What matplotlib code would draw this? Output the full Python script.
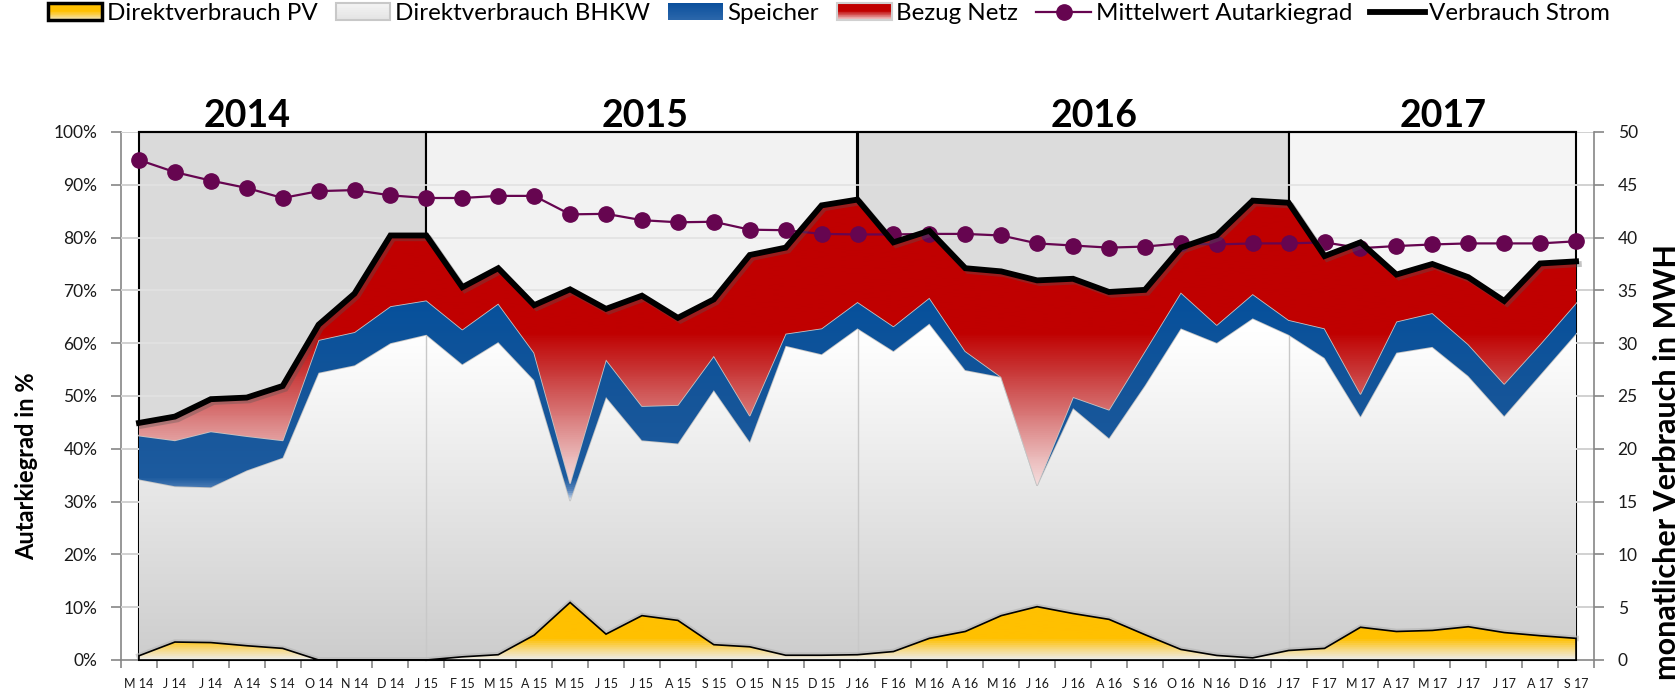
import numpy as np
import matplotlib
matplotlib.use('Agg')
import matplotlib.pyplot as plt
import matplotlib.patheffects as pe
from matplotlib.colors import LinearSegmentedColormap, Normalize
from matplotlib.patches import Polygon, Rectangle, Patch
from matplotlib.lines import Line2D
from matplotlib.legend_handler import HandlerBase
from matplotlib.ticker import PercentFormatter, MultipleLocator

plt.rcParams['font.family'] = ['Lato', 'DejaVu Sans']

# monthly data (MWh), May 2014 .. Sep 2017
months = ['M 14', 'J 14', 'J 14', 'A 14', 'S 14', 'O 14', 'N 14', 'D 14',
          'J 15', 'F 15', 'M 15', 'A 15', 'M 15', 'J 15', 'J 15', 'A 15', 'S 15', 'O 15', 'N 15', 'D 15',
          'J 16', 'F 16', 'M 16', 'A 16', 'M 16', 'J 16', 'J 16', 'A 16', 'S 16', 'O 16', 'N 16', 'D 16',
          'J 17', 'F 17', 'M 17', 'A 17', 'M 17', 'J 17', 'J 17', 'A 17', 'S 17']

pv = [0.4, 1.7, 1.65, 1.35, 1.1, 0.0, 0.0, 0.0, 0.0, 0.3, 0.5, 2.35, 5.45, 2.45, 4.2, 3.75, 1.45, 1.25, 0.45, 0.45,
      0.5, 0.8, 2.05, 2.7, 4.2, 5.05, 4.4, 3.85, 2.4, 1.0, 0.43, 0.2, 0.9, 1.1, 3.1, 2.7, 2.8, 3.15, 2.6, 2.3, 2.05]
bhkw = [16.7, 14.75, 14.7, 16.6, 18.05, 27.2, 27.9, 30.0, 30.8, 27.7, 29.6, 24.15, 9.65, 22.45, 16.6, 16.75, 24.1,
        19.4, 29.3, 28.5, 30.9, 28.45, 29.8, 24.75, 22.6, 11.5, 19.45, 17.15, 23.6, 30.4, 29.6, 32.15, 29.9, 27.5,
        19.95, 26.4, 26.85, 23.75, 20.5, 24.7, 28.85]
speicher = [4.15, 4.35, 5.3, 3.25, 1.65, 3.1, 3.15, 3.5, 3.25, 3.3, 3.65, 2.6, 1.65, 3.55, 3.25, 3.65, 3.25, 2.5,
            1.15, 2.45, 2.5, 2.35, 2.45, 1.8, 0.0, 0.0, 1.05, 2.7, 3.25, 3.4, 1.7, 2.3, 1.4, 2.8, 2.15, 2.95, 3.2,
            3.0, 3.05, 2.9, 2.9]
netz = [1.2, 2.25, 3.05, 3.65, 5.15, 1.45, 3.65, 6.7, 6.15, 4.0, 3.35, 4.5, 18.35, 4.8, 10.45, 8.25, 5.35, 15.2,
        8.15, 11.65, 9.7, 7.95, 6.35, 7.85, 10.0, 19.4, 11.2, 11.15, 5.8, 4.25, 8.5, 8.85, 11.1, 6.85, 14.35, 4.45,
        4.65, 6.35, 7.85, 7.65, 3.95]
# Mittelwert Autarkiegrad in %
autarkie = [94.7, 92.4, 90.8, 89.4, 87.5, 88.8, 89.0, 88.0, 87.5, 87.5, 87.9, 87.9, 84.4, 84.5, 83.3, 82.9, 83.0,
            81.5, 81.4, 80.7, 80.6, 80.6, 80.7, 80.7, 80.4, 78.9, 78.5, 78.1, 78.3, 78.9, 78.7, 78.9, 78.9, 79.1,
            78.0, 78.4, 78.7, 78.9, 78.9, 78.9, 79.3]

years = ['2014', '2015', '2016', '2017']
year_start = [0, 8, 20, 32]
year_end = [8, 20, 32, 40]
year_colors = ['#dadada', '#f2f2f2', '#dcdcdc', '#f5f5f5']
year_label_x = [3.0, 14.1, 26.6, 36.3]

W, H = 1681, 692
YMAX = 50

x = np.arange(len(months))
c1 = np.array(pv)
c2 = c1 + np.array(bhkw)
c3 = c2 + np.array(speicher)
c4 = c3 + np.array(netz)


def grad_fill(ax, x, lo, hi, stops, z, edge=None, lw=1.2):
    verts = np.column_stack([np.r_[x, x[::-1]], np.r_[hi, lo[::-1]]])
    poly = Polygon(verts, closed=True, facecolor='none',
                   edgecolor=edge if edge else 'none', lw=lw, zorder=z + 0.2)
    ax.add_patch(poly)
    cmap = LinearSegmentedColormap.from_list('g', [(v / YMAX, c) for v, c in stops])
    grad = np.linspace(0, YMAX, 500).reshape(-1, 1)
    im = ax.imshow(grad, extent=[x[0], x[-1], 0, YMAX], origin='lower', aspect='auto',
                   cmap=cmap, norm=Normalize(0, YMAX), interpolation='bilinear', zorder=z)
    im.set_clip_path(poly)
    return poly


class GradHandler(HandlerBase):
    # legend box with a vertical colour gradient (top colour first)
    def __init__(self, colors, edge, lw):
        super().__init__()
        self.cmap = LinearSegmentedColormap.from_list('h', colors)
        self.edge = edge
        self.lw = lw

    def create_artists(self, legend, orig_handle, xdescent, ydescent, width, height, fontsize, trans):
        arts = []
        n = 24
        for i in range(n):
            y0 = -ydescent + height * (1 - (i + 1) / n)
            arts.append(Rectangle((-xdescent, y0), width, height / n + 0.3,
                                  facecolor=self.cmap(i / (n - 1)), edgecolor='none', transform=trans))
        arts.append(Rectangle((-xdescent, -ydescent), width, height, facecolor='none',
                              edgecolor=self.edge, lw=self.lw, transform=trans))
        return arts


fig = plt.figure(figsize=(W / 100, H / 100), dpi=100)
ax = fig.add_axes([121 / W, 32 / H, 1473 / W, 528 / H])
ax2 = ax.twinx()

# year boxes
for s, e, col in zip(year_start, year_end, year_colors):
    ax2.add_patch(Rectangle((s, 0), e - s, YMAX, facecolor=col, edgecolor='black',
                            lw=1.5, zorder=1, clip_on=False))
for v in range(5, 55, 5):
    ax2.axhline(v, color='#e2e2e2', lw=1.2, zorder=1.5)
for v in range(5, 55, 5):
    ax2.plot([-0.5, 0], [v, v], color='#cfcfcf', lw=1.2, zorder=1.6)
    ax2.plot([40, 40.5], [v, v], color='#cfcfcf', lw=1.2, zorder=1.6)
ax2.plot([0, 40], [YMAX, YMAX], color='black', lw=1.5, zorder=1.7, clip_on=False)

# stacked areas
grad_fill(ax2, x, np.zeros_like(c1), c2,
          [(0, '#cdcdcd'), (31, '#ffffff'), (50, '#ffffff')], 3)
ax2.plot(x, c2, color='#c4c4c4', lw=1.2, zorder=3.3)
for b in year_start[1:]:
    ax2.plot([b, b], [c1[b], c2[b]], color='#c8c8c8', lw=1, zorder=3.4)

grad_fill(ax2, x, c2, c3,
          [(0, '#ffffff'), (15.0, '#e6edf6'), (16.0, '#5a86bc'), (17.2, '#1d5b9f'),
           (25, '#155599'), (35, '#05509c'), (50, '#05509c')], 4)
ax2.plot(x, c3, color='#c4c4c4', lw=1.2, zorder=4.4)

grad_fill(ax2, x, c3, c4,
          [(0, '#fbf0f0'), (16, '#f7e4e4'), (19, '#ebbcbc'), (24, '#d56b6b'),
           (27.5, '#c83535'), (31, '#c00000'), (50, '#c00000')], 4.5)

ax2.plot(x, c1, color='#b4b4b4', lw=4, alpha=0.6, zorder=4.9)
grad_fill(ax2, x, np.zeros_like(c1), c1,
          [(0, '#eeece6'), (0.75, '#f6dc92'), (1.9, '#ffc000'), (50, '#ffc000')], 5,
          edge='black', lw=1.2)

# Mittelwert Autarkiegrad (left axis scale)
ax2.plot(x, autarkie, color='#660550', lw=1.6, marker='o', ms=11, zorder=6,
         transform=ax.transData)

# Verbrauch Strom
ax2.plot(x, c4, color='black', lw=4.2, zorder=7, solid_joinstyle='miter',
         path_effects=[pe.SimpleLineShadow(offset=(2, -2), shadow_color='#555555', alpha=0.35),
                       pe.Normal()])

for yl, xp in zip(years, year_label_x):
    ax2.text(xp, YMAX + 0.45, yl, ha='center', va='baseline', fontsize=27, fontweight='bold')

# axes
ax.set_xlim(-0.5, 40.5)
ax.set_ylim(0, 100)
ax2.set_xlim(-0.5, 40.5)
ax2.set_ylim(0, YMAX)
ax.yaxis.set_major_locator(MultipleLocator(10))
ax.yaxis.set_major_formatter(PercentFormatter(100, decimals=0))
ax2.yaxis.set_major_locator(MultipleLocator(5))

ax.set_xticks(np.arange(-0.5, 41, 1))
ax.set_xticklabels([])
ax.set_xticks(x, minor=True)
ax.set_xticklabels(months, minor=True)
ax.tick_params(axis='x', which='major', direction='out', length=6, width=1.2, color='#868686')
ax.tick_params(axis='x', which='minor', length=0, pad=13, labelsize=9, labelcolor='#1a1a1a')
ax.tick_params(axis='y', direction='out', length=7, width=1.2, color='#868686', pad=10,
               labelsize=12.5, labelcolor='#1a1a1a')
ax2.tick_params(axis='y', direction='out', length=7, width=1.2, color='#868686', pad=10,
                labelsize=12.5, labelcolor='#1a1a1a')

for sp in ['top', 'right']:
    ax.spines[sp].set_visible(False)
for sp in ['left', 'bottom']:
    ax.spines[sp].set_color('#868686')
    ax.spines[sp].set_linewidth(1.2)
for sp in ['top', 'left', 'bottom']:
    ax2.spines[sp].set_visible(False)
ax2.spines['right'].set_color('#868686')
ax2.spines['right'].set_linewidth(1.2)

fig.text(27 / W, 1 - 466 / H, 'Autarkiegrad in %', rotation=90, ha='center', va='center',
         fontsize=17, fontweight='bold')
fig.text(1667 / W, 1 - 244 / H, 'monatlicher Verbrauch in MWH', rotation=90, ha='center', va='top',
         fontsize=22, fontweight='bold')

h_pv, h_bhkw, h_sp, h_netz = Patch(), Patch(), Patch(), Patch()
handles = [h_pv, h_bhkw, h_sp, h_netz,
           Line2D([], [], color='#660550', lw=1.6, marker='o', ms=11),
           Line2D([], [], color='black', lw=4.2)]
labels = ['Direktverbrauch PV', 'Direktverbrauch BHKW', 'Speicher', 'Bezug Netz',
          'Mittelwert Autarkiegrad', 'Verbrauch Strom']
hmap = {h_pv: GradHandler(['#ffc000', '#ffc000', '#f4e4b0'], 'black', 2.5),
        h_bhkw: GradHandler(['#f4f4f4', '#e4e4e4'], '#c8c8c8', 1.5),
        h_sp: GradHandler(['#0a4f9c', '#2a66aa'], 'none', 0),
        h_netz: GradHandler(['#c00000', '#c00000', '#f0c4c4'], '#d0d0d0', 1.5)}
fig.legend(handles, labels, handler_map=hmap, loc='upper left', bbox_to_anchor=(48 / W, 1 - 3 / H),
           ncol=6, frameon=False, fontsize=17.4, handlelength=2.25, handleheight=0.68,
           handletextpad=0.2, columnspacing=0.75, borderaxespad=0, borderpad=0)

plt.savefig('out.png', dpi=100)
